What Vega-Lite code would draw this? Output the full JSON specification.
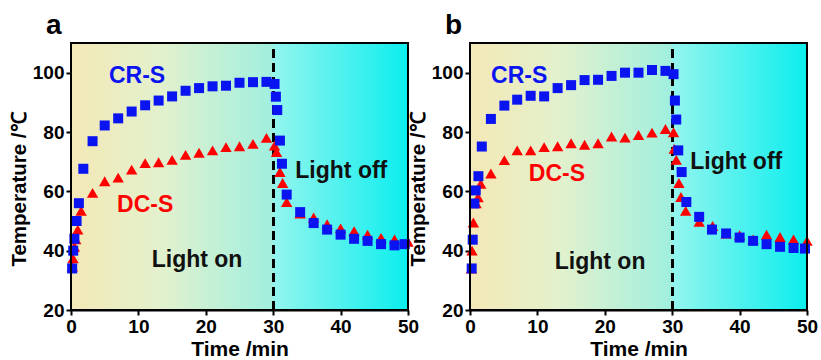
{
  "$schema": "https://vega.github.io/schema/vega-lite/v6.json",
  "padding": {"left": 9, "top": 12, "right": 0, "bottom": 0},
  "background": "white",
  "bounds": "flush",
  "spacing": 62,
  "datasets": {
    "labels": [
      {"p": "a", "label": "CR-S", "kind": "CR-S", "t": 9.8, "T": 99},
      {"p": "a", "label": "DC-S", "kind": "DC-S", "t": 11, "T": 55.3},
      {"p": "a", "label": "Light on", "kind": "note", "t": 18.7, "T": 36.8},
      {"p": "a", "label": "Light off", "kind": "note", "t": 40.1, "T": 67},
      {"p": "b", "label": "CR-S", "kind": "CR-S", "t": 7.3, "T": 99},
      {"p": "b", "label": "DC-S", "kind": "DC-S", "t": 12.9, "T": 65.7},
      {"p": "b", "label": "Light on", "kind": "note", "t": 19.3, "T": 36.1},
      {"p": "b", "label": "Light off", "kind": "note", "t": 39.5, "T": 70}
    ]
  },
  "data": {"values": [
    {"p":"a","s":"CR-S","t":0.17,"T":34},{"p":"a","s":"CR-S","t":0.33,"T":40},{"p":"a","s":"CR-S","t":0.5,"T":44},{"p":"a","s":"CR-S","t":0.83,"T":50},{"p":"a","s":"CR-S","t":1.17,"T":56},{"p":"a","s":"CR-S","t":1.83,"T":67.6},{"p":"a","s":"CR-S","t":3.2,"T":76.9},{"p":"a","s":"CR-S","t":5,"T":82.2},{"p":"a","s":"CR-S","t":7,"T":84.6},{"p":"a","s":"CR-S","t":9,"T":86.9},{"p":"a","s":"CR-S","t":11,"T":89},{"p":"a","s":"CR-S","t":13,"T":90.6},{"p":"a","s":"CR-S","t":15,"T":92},{"p":"a","s":"CR-S","t":17,"T":93.9},{"p":"a","s":"CR-S","t":19,"T":94.8},{"p":"a","s":"CR-S","t":21,"T":95.4},{"p":"a","s":"CR-S","t":23,"T":95.6},{"p":"a","s":"CR-S","t":25,"T":96.6},{"p":"a","s":"CR-S","t":27,"T":96.8},{"p":"a","s":"CR-S","t":29,"T":96.9},{"p":"a","s":"CR-S","t":30.2,"T":96.2},{"p":"a","s":"CR-S","t":30.4,"T":91.9},{"p":"a","s":"CR-S","t":30.6,"T":87.4},{"p":"a","s":"CR-S","t":31,"T":77.1},{"p":"a","s":"CR-S","t":31.3,"T":69.3},{"p":"a","s":"CR-S","t":32,"T":58.9},{"p":"a","s":"CR-S","t":34,"T":53},{"p":"a","s":"CR-S","t":36,"T":49.3},{"p":"a","s":"CR-S","t":38,"T":47.1},{"p":"a","s":"CR-S","t":40,"T":45.4},{"p":"a","s":"CR-S","t":42,"T":44},{"p":"a","s":"CR-S","t":44,"T":43.3},{"p":"a","s":"CR-S","t":46,"T":42.2},{"p":"a","s":"CR-S","t":48,"T":41.8},{"p":"a","s":"CR-S","t":49.5,"T":42.2},
    {"p":"a","s":"DC-S","t":0.2,"T":34.6},{"p":"a","s":"DC-S","t":0.3,"T":37.4},{"p":"a","s":"DC-S","t":0.5,"T":41.3},{"p":"a","s":"DC-S","t":0.7,"T":43.8},{"p":"a","s":"DC-S","t":1,"T":47.1},{"p":"a","s":"DC-S","t":1.5,"T":53.4},{"p":"a","s":"DC-S","t":3.2,"T":59.5},{"p":"a","s":"DC-S","t":5,"T":63.4},{"p":"a","s":"DC-S","t":7,"T":64.6},{"p":"a","s":"DC-S","t":9,"T":67.3},{"p":"a","s":"DC-S","t":11,"T":69.5},{"p":"a","s":"DC-S","t":13,"T":69.8},{"p":"a","s":"DC-S","t":15,"T":70.6},{"p":"a","s":"DC-S","t":17,"T":72.3},{"p":"a","s":"DC-S","t":19,"T":73},{"p":"a","s":"DC-S","t":21,"T":73.8},{"p":"a","s":"DC-S","t":23,"T":74.9},{"p":"a","s":"DC-S","t":25,"T":75.2},{"p":"a","s":"DC-S","t":27,"T":76},{"p":"a","s":"DC-S","t":29,"T":78},{"p":"a","s":"DC-S","t":30.2,"T":75.4},{"p":"a","s":"DC-S","t":30.5,"T":73.2},{"p":"a","s":"DC-S","t":31,"T":66.5},{"p":"a","s":"DC-S","t":31.4,"T":62.8},{"p":"a","s":"DC-S","t":32,"T":56.4},{"p":"a","s":"DC-S","t":34,"T":52.5},{"p":"a","s":"DC-S","t":36,"T":51.2},{"p":"a","s":"DC-S","t":38,"T":48.9},{"p":"a","s":"DC-S","t":40,"T":47.5},{"p":"a","s":"DC-S","t":42,"T":46.6},{"p":"a","s":"DC-S","t":44,"T":45.4},{"p":"a","s":"DC-S","t":46,"T":44.3},{"p":"a","s":"DC-S","t":48,"T":43.8},{"p":"a","s":"DC-S","t":50,"T":43},
    {"p":"b","s":"CR-S","t":0.25,"T":34},{"p":"b","s":"CR-S","t":0.4,"T":43.7},{"p":"b","s":"CR-S","t":0.65,"T":55.9},{"p":"b","s":"CR-S","t":0.85,"T":60.3},{"p":"b","s":"CR-S","t":1.25,"T":65.1},{"p":"b","s":"CR-S","t":1.75,"T":75.1},{"p":"b","s":"CR-S","t":3.1,"T":84.4},{"p":"b","s":"CR-S","t":5.1,"T":88.9},{"p":"b","s":"CR-S","t":7,"T":90.9},{"p":"b","s":"CR-S","t":9,"T":92.2},{"p":"b","s":"CR-S","t":11,"T":92},{"p":"b","s":"CR-S","t":13,"T":94.8},{"p":"b","s":"CR-S","t":15,"T":95.8},{"p":"b","s":"CR-S","t":17,"T":97.5},{"p":"b","s":"CR-S","t":19,"T":97.6},{"p":"b","s":"CR-S","t":21,"T":98.9},{"p":"b","s":"CR-S","t":23,"T":100},{"p":"b","s":"CR-S","t":25,"T":100},{"p":"b","s":"CR-S","t":27,"T":100.9},{"p":"b","s":"CR-S","t":29,"T":100.6},{"p":"b","s":"CR-S","t":30.2,"T":99.5},{"p":"b","s":"CR-S","t":30.4,"T":90.6},{"p":"b","s":"CR-S","t":30.6,"T":84.2},{"p":"b","s":"CR-S","t":30.9,"T":73.8},{"p":"b","s":"CR-S","t":31.4,"T":66.5},{"p":"b","s":"CR-S","t":32.1,"T":56.4},{"p":"b","s":"CR-S","t":34,"T":51.4},{"p":"b","s":"CR-S","t":35.9,"T":47.1},{"p":"b","s":"CR-S","t":38,"T":45.8},{"p":"b","s":"CR-S","t":40,"T":44.4},{"p":"b","s":"CR-S","t":42,"T":43.3},{"p":"b","s":"CR-S","t":44,"T":42.2},{"p":"b","s":"CR-S","t":46,"T":41.3},{"p":"b","s":"CR-S","t":48,"T":40.9},{"p":"b","s":"CR-S","t":49.7,"T":40.7},
    {"p":"b","s":"DC-S","t":0.2,"T":34},{"p":"b","s":"DC-S","t":0.3,"T":40},{"p":"b","s":"DC-S","t":0.5,"T":49.5},{"p":"b","s":"DC-S","t":0.9,"T":56},{"p":"b","s":"DC-S","t":1.2,"T":58},{"p":"b","s":"DC-S","t":1.6,"T":62.5},{"p":"b","s":"DC-S","t":3.1,"T":66},{"p":"b","s":"DC-S","t":5.1,"T":70.5},{"p":"b","s":"DC-S","t":7,"T":73.8},{"p":"b","s":"DC-S","t":9,"T":73.8},{"p":"b","s":"DC-S","t":11,"T":74.9},{"p":"b","s":"DC-S","t":13,"T":75.2},{"p":"b","s":"DC-S","t":15,"T":76.2},{"p":"b","s":"DC-S","t":17,"T":75.7},{"p":"b","s":"DC-S","t":19,"T":76.2},{"p":"b","s":"DC-S","t":21,"T":78.5},{"p":"b","s":"DC-S","t":23,"T":78.1},{"p":"b","s":"DC-S","t":25,"T":79},{"p":"b","s":"DC-S","t":27,"T":79.8},{"p":"b","s":"DC-S","t":29,"T":81},{"p":"b","s":"DC-S","t":30.2,"T":79.9},{"p":"b","s":"DC-S","t":30.3,"T":74.3},{"p":"b","s":"DC-S","t":30.6,"T":70.6},{"p":"b","s":"DC-S","t":31,"T":62.8},{"p":"b","s":"DC-S","t":31.3,"T":58.1},{"p":"b","s":"DC-S","t":32,"T":53.4},{"p":"b","s":"DC-S","t":34,"T":49.7},{"p":"b","s":"DC-S","t":36,"T":48.3},{"p":"b","s":"DC-S","t":38,"T":45.8},{"p":"b","s":"DC-S","t":40,"T":45.2},{"p":"b","s":"DC-S","t":42,"T":43.8},{"p":"b","s":"DC-S","t":44,"T":45.4},{"p":"b","s":"DC-S","t":46,"T":44.6},{"p":"b","s":"DC-S","t":48,"T":43.8},{"p":"b","s":"DC-S","t":50,"T":43.3}
  ]},
  "hconcat": [
    {
      "title": {"text": "a", "dx": -25},
      "width": 337, "height": 267,
      "layer": [
        {"mark": {"type": "rect", "fill": {"gradient": "linear", "x1": 0, "y1": 0, "x2": 1, "y2": 0, "stops": [{"offset": 0, "color": "#F4E8B6"}, {"offset": 0.45, "color": "#E2F1CD"}, {"offset": 1, "color": "#A0EFDF"}]}},
         "encoding": {"x": {"datum": 0}, "x2": {"datum": 30}, "y": {"datum": 20}, "y2": {"datum": 110}}},
        {"mark": {"type": "rect", "fill": {"gradient": "linear", "x1": 0, "y1": 0, "x2": 1, "y2": 0, "stops": [{"offset": 0, "color": "#94F5EE"}, {"offset": 1, "color": "#0CEEEE"}]}},
         "encoding": {"x": {"datum": 30}, "x2": {"datum": 50}, "y": {"datum": 20}, "y2": {"datum": 110}}},
        {"mark": {"type": "rule", "color": "black", "strokeWidth": 2, "strokeDash": [9, 5]},
         "encoding": {"x": {"datum": 30}, "y": {"datum": 20}, "y2": {"datum": 110}}},
        {"transform": [{"filter": "datum.p === 'a' && datum.s === 'DC-S'"}],
         "mark": {"type": "point", "shape": "triangle-up", "filled": true, "color": "#FF0000", "opacity": 1, "size": 130},
         "encoding": {
           "x": {"field": "t", "type": "quantitative", "scale": {"domain": [0, 50], "nice": false}, "axis": {"title": "Time /min", "values": [0, 10, 20, 30, 40, 50]}},
           "y": {"field": "T", "type": "quantitative", "scale": {"domain": [20, 110], "nice": false, "zero": false}, "axis": {"title": "Temperature /℃", "values": [20, 40, 60, 80, 100], "titleY": 146}}
         }},
        {"transform": [{"filter": "datum.p === 'a' && datum.s === 'CR-S'"}],
         "mark": {"type": "point", "shape": "square", "filled": true, "color": "#0A14F0", "opacity": 1, "size": 100},
         "encoding": {"x": {"field": "t", "type": "quantitative"}, "y": {"field": "T", "type": "quantitative"}}},
        {"data": {"name": "labels"},
         "transform": [{"filter": "datum.p === 'a'"}],
         "mark": {"type": "text", "fontSize": 23, "fontWeight": "bold", "align": "center", "baseline": "middle"},
         "encoding": {"x": {"field": "t", "type": "quantitative"}, "y": {"field": "T", "type": "quantitative"}, "text": {"field": "label"},
           "color": {"field": "kind", "type": "nominal", "scale": {"domain": ["CR-S", "DC-S", "note"], "range": ["#0A14F0", "#FF0000", "#111111"]}, "legend": null}}},
        {"mark": {"type": "rect", "filled": false, "stroke": "black", "strokeWidth": 2},
         "encoding": {"x": {"datum": 0}, "x2": {"datum": 50}, "y": {"datum": 20}, "y2": {"datum": 110}}}
      ]
    },
    {
      "title": {"text": "b", "dx": -25},
      "width": 337, "height": 267,
      "layer": [
        {"mark": {"type": "rect", "fill": {"gradient": "linear", "x1": 0, "y1": 0, "x2": 1, "y2": 0, "stops": [{"offset": 0, "color": "#F4E8B6"}, {"offset": 0.45, "color": "#E2F1CD"}, {"offset": 1, "color": "#A0EFDF"}]}},
         "encoding": {"x": {"datum": 0}, "x2": {"datum": 30}, "y": {"datum": 20}, "y2": {"datum": 110}}},
        {"mark": {"type": "rect", "fill": {"gradient": "linear", "x1": 0, "y1": 0, "x2": 1, "y2": 0, "stops": [{"offset": 0, "color": "#94F5EE"}, {"offset": 1, "color": "#0CEEEE"}]}},
         "encoding": {"x": {"datum": 30}, "x2": {"datum": 50}, "y": {"datum": 20}, "y2": {"datum": 110}}},
        {"mark": {"type": "rule", "color": "black", "strokeWidth": 2, "strokeDash": [9, 5]},
         "encoding": {"x": {"datum": 30}, "y": {"datum": 20}, "y2": {"datum": 110}}},
        {"transform": [{"filter": "datum.p === 'b' && datum.s === 'DC-S'"}],
         "mark": {"type": "point", "shape": "triangle-up", "filled": true, "color": "#FF0000", "opacity": 1, "size": 130},
         "encoding": {
           "x": {"field": "t", "type": "quantitative", "scale": {"domain": [0, 50], "nice": false}, "axis": {"title": "Time /min", "values": [0, 10, 20, 30, 40, 50]}},
           "y": {"field": "T", "type": "quantitative", "scale": {"domain": [20, 110], "nice": false, "zero": false}, "axis": {"title": "Temperature /℃", "values": [20, 40, 60, 80, 100], "titleY": 146}}
         }},
        {"transform": [{"filter": "datum.p === 'b' && datum.s === 'CR-S'"}],
         "mark": {"type": "point", "shape": "square", "filled": true, "color": "#0A14F0", "opacity": 1, "size": 100},
         "encoding": {"x": {"field": "t", "type": "quantitative"}, "y": {"field": "T", "type": "quantitative"}}},
        {"data": {"name": "labels"},
         "transform": [{"filter": "datum.p === 'b'"}],
         "mark": {"type": "text", "fontSize": 23, "fontWeight": "bold", "align": "center", "baseline": "middle"},
         "encoding": {"x": {"field": "t", "type": "quantitative"}, "y": {"field": "T", "type": "quantitative"}, "text": {"field": "label"},
           "color": {"field": "kind", "type": "nominal", "scale": {"domain": ["CR-S", "DC-S", "note"], "range": ["#0A14F0", "#FF0000", "#111111"]}, "legend": null}}},
        {"mark": {"type": "rect", "filled": false, "stroke": "black", "strokeWidth": 2},
         "encoding": {"x": {"datum": 0}, "x2": {"datum": 50}, "y": {"datum": 20}, "y2": {"datum": 110}}}
      ]
    }
  ],
  "resolve": {"scale": {"x": "independent", "y": "independent"}},
  "config": {
    "font": "Liberation Sans",
    "view": {"stroke": null},
    "axis": {"labelFont": "Liberation Sans", "labelFontWeight": "bold", "labelFontSize": 19, "labelColor": "black",
             "titleFont": "Liberation Sans", "titleFontWeight": "bold", "titleFontSize": 20.5, "titleColor": "black",
             "domainColor": "black", "domainWidth": 2, "tickColor": "black", "tickWidth": 2, "tickSize": 5,
             "grid": false, "labelPadding": 2, "titlePadding": 3, "zindex": 1, "labelFlush": false, "labelOverlap": false},
    "axisX": {"titlePadding": 2, "titleFontSize": 21},
    "title": {"fontSize": 28, "fontWeight": "bold", "anchor": "start", "frame": "group", "color": "black", "font": "Liberation Sans", "offset": 2}
  }
}
